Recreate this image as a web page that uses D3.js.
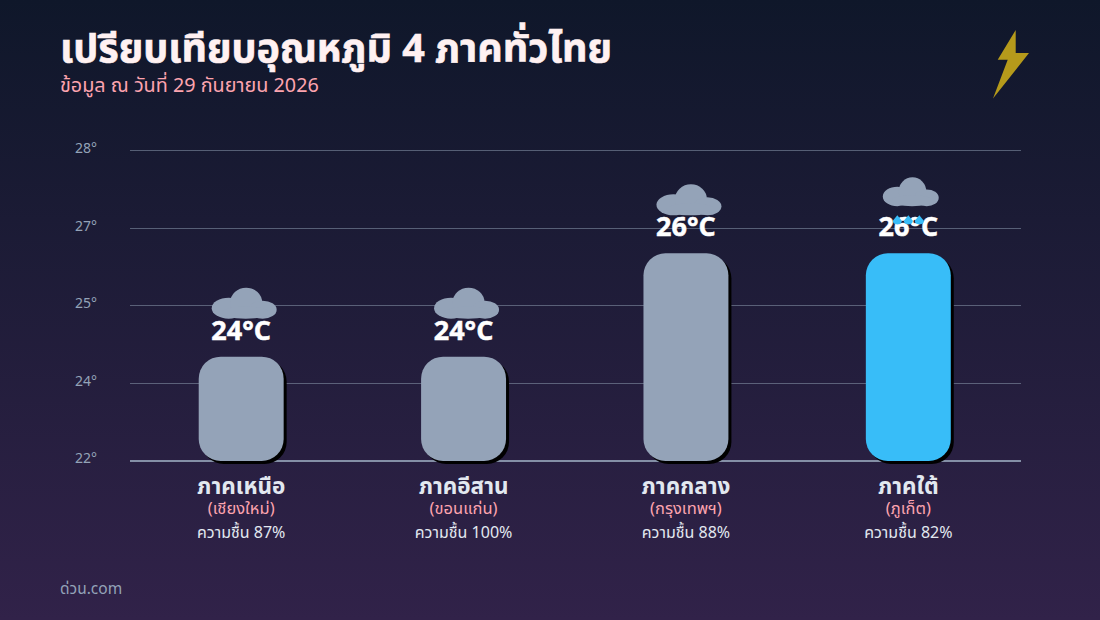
<!doctype html>
<html>
<head>
<meta charset="utf-8">
<script src="https://cdn.jsdelivr.net/npm/d3@7/dist/d3.min.js" charset="utf-8"></script>
<style>
html, body { margin: 0; padding: 0; background: #0f172a; }
svg { display: block; }
text { font-family: "Noto Sans Thai", "Noto Sans Thai Looped", "Noto Sans", "Open Sans", sans-serif; }
.grid line { stroke: #94a3b8; stroke-opacity: .5; shape-rendering: crispEdges; }
</style>
</head>
<body>
<script>

var regions = ["ภาคเหนือ", "ภาคอีสาน", "ภาคกลาง", "ภาคใต้"];
var cities = ["(เชียงใหม่)", "(ขอนแก่น)", "(กรุงเทพฯ)", "(ภูเก็ต)"];
var temps = [24, 24, 26, 26];
var humidity = [87, 100, 88, 82];
var sky = ["cloud", "cloud", "cloud", "rain"];
var tickValues = [22, 23.5, 25, 26.5, 28];

var width = 1100, height = 620;
var slate = "#94a3b8", blue = "#38bdf8", pink = "#fda4af";

var svg = d3.select("body").append("svg")
  .attr("width", width)
  .attr("height", height);

var defs = svg.append("defs");
var bg = defs.append("linearGradient")
  .attr("id", "bg").attr("x1", 0).attr("y1", 0).attr("x2", 0).attr("y2", 1);
bg.append("stop").attr("offset", "0%").attr("stop-color", "#0f172a");
bg.append("stop").attr("offset", "100%").attr("stop-color", "#312249");

svg.append("rect")
  .attr("width", width).attr("height", height)
  .attr("fill", "url(#bg)");

svg.append("text").attr("x", 60).attr("y", 62)
  .attr("fill", "#fff1f2").attr("font-size", 39).attr("font-weight", 700)
  .attr("stroke", "#fff1f2").attr("stroke-width", .6)
  .attr("textLength", 552).attr("lengthAdjust", "spacingAndGlyphs")
  .text("เปรียบเทียบอุณหภูมิ 4 ภาคทั่วไทย");
svg.append("text").attr("x", 60).attr("y", 92)
  .attr("fill", pink).attr("font-size", 19.8)
  .text("ข้อมูล ณ วันที่ 29 กันยายน 2026");

// lightning bolt, top right
svg.append("path")
  .attr("d", "M1015.7 30L997.7 59.7H1007.7L993 98.5L1029 53H1015.7Z")
  .attr("fill", "#b59a1b");

var x = d3.scaleBand().domain(regions).range([130, 1019.5]).paddingInner(0.618).paddingOuter(0.309);
var y = d3.scaleLinear().domain([22, 28]).range([460, 150]);

var axis = svg.append("g").attr("class", "grid")
  .attr("transform", "translate(130,0)")
  .call(d3.axisLeft(y)
    .tickValues(tickValues)
    .tickSize(-891)
    .tickPadding(33)
    .tickFormat(d => d3.format(".0f")(d) + "°"));
axis.select(".domain").remove();
axis.selectAll("text").attr("fill", slate).attr("font-size", 14).attr("dy", "0.2em");
axis.selectAll("line").filter(d => d === 22).style("stroke-opacity", .85).style("stroke-width", 2);

var g = svg.selectAll(".region").data(regions).enter().append("g")
  .attr("class", "region")
  .attr("transform", d => "translate(" + (x(d) + x.bandwidth() / 2) + ",0)");

g.append("rect").attr("class", "shadow")
  .attr("x", -x.bandwidth() / 2 + 3)
  .attr("y", (d, i) => y(temps[i]) + 3)
  .attr("width", x.bandwidth())
  .attr("height", (d, i) => y(22) - y(temps[i]) + 1)
  .attr("rx", 22)
  .attr("fill", "#000");

g.append("rect").attr("class", "bar")
  .attr("x", -x.bandwidth() / 2)
  .attr("y", (d, i) => y(temps[i]))
  .attr("width", x.bandwidth())
  .attr("height", (d, i) => y(22) - y(temps[i]) + 1)
  .attr("rx", 22)
  .attr("fill", (d, i) => sky[i] === "rain" ? blue : slate);

g.append("text")
  .attr("text-anchor", "middle")
  .attr("y", (d, i) => y(temps[i]) - 17)
  .attr("fill", "#fff").attr("font-size", 27).attr("font-weight", 700)
  .attr("stroke", "#fff").attr("stroke-width", .5)
  .text((d, i) => temps[i] + "°C");

// clouds sit above the value, rain one is a bit smaller and higher
var cloud = g.append("g")
  .attr("transform", (d, i) => sky[i] === "rain"
    ? "translate(-25.5," + (y(temps[i]) - 76) + ") scale(.86,.93)"
    : "translate(-29.5," + (y(temps[i]) - 69) + ")");
[[17, 20.5, 17, 10.5], [34.5, 15, 16, 15], [51, 22, 14, 9], [34, 25, 24, 6]].forEach(e => {
  cloud.append("ellipse")
    .attr("cx", e[0]).attr("cy", e[1]).attr("rx", e[2]).attr("ry", e[3])
    .attr("fill", slate);
});

g.filter((d, i) => sky[i] === "rain").each(function(d, i) {
  var top = y(temps[regions.indexOf(d)]) - 38;
  d3.select(this).selectAll(".drop").data([-11, 0, 11]).enter().append("path")
    .attr("class", "drop")
    .attr("transform", o => "translate(" + o + "," + top + ")")
    .attr("d", "M0 0L4.5 5.5A4.5 3.6 0 0 1 -4.5 5.5Z")
    .attr("fill", blue);
});

g.append("text")
  .attr("text-anchor", "middle").attr("y", 494)
  .attr("fill", "#e2e8f0").attr("font-size", 22.5).attr("font-weight", 700)
  .text(d => d);
g.append("text")
  .attr("text-anchor", "middle").attr("y", 514)
  .attr("fill", pink).attr("font-size", 16.5)
  .text((d, i) => cities[i]);
g.append("text")
  .attr("text-anchor", "middle").attr("y", 538)
  .attr("fill", "#e2e8f0").attr("font-size", 16)
  .text((d, i) => "ความชื้น " + humidity[i] + "%");

svg.append("text").attr("x", 60).attr("y", 594)
  .attr("fill", slate).attr("font-size", 15.5)
  .text("ด่วน.com");

</script>
</body>
</html>
